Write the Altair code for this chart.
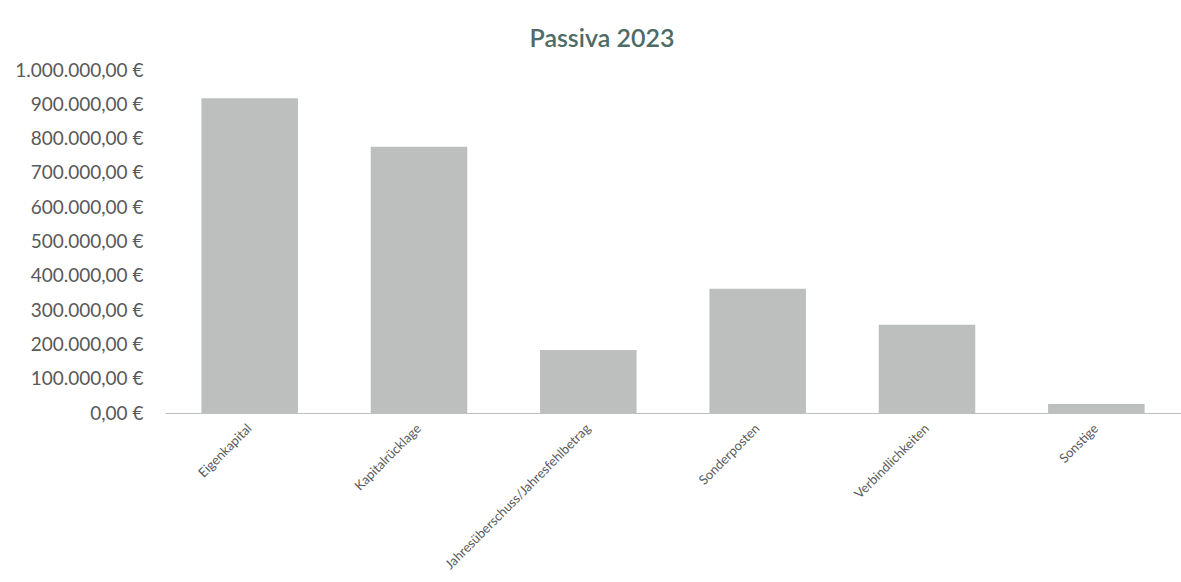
import altair as alt
import pandas as pd

categories = [
    "Eigenkapital",
    "Kapitalrücklage",
    "Jahresüberschuss/Jahresfehlbetrag",
    "Sonderposten",
    "Verbindlichkeiten",
    "Sonstige",
]
values = [918000, 776000, 184000, 362000, 257000, 26000]
y_ticks = [0, 100000, 200000, 300000, 400000, 500000, 600000, 700000, 800000, 900000, 1000000]

df = pd.DataFrame({"Kategorie": categories, "Wert": values})

label_expr = (
    "replace(replace(replace(format(datum.value, ',.2f'), regexp(',', 'g'), '#'), "
    "regexp('[.]', 'g'), ','), regexp('#', 'g'), '.') + ' €'"
)

chart = (
    alt.Chart(df)
    .mark_bar(color="#bdbfbf")
    .encode(
        x=alt.X(
            "Kategorie:N",
            sort=categories,
            scale=alt.Scale(paddingInner=0.43, paddingOuter=0.215),
            axis=alt.Axis(
                title=None,
                labelAngle=-45,
                labelAlign="right",
                labelBaseline="middle",
                labelPadding=13,
                labelLimit=0,
                ticks=False,
                domainColor="#bfbfbf",
                labelFont="Lato",
                labelFontSize=13,
                labelColor="#595959",
            ),
        ),
        y=alt.Y(
            "Wert:Q",
            scale=alt.Scale(domain=[0, 1000000], nice=False),
            axis=alt.Axis(
                title=None,
                values=y_ticks,
                labelExpr=label_expr,
                domain=False,
                ticks=False,
                grid=False,
                labelPadding=22,
                labelFont="Lato",
                labelFontSize=19,
                labelColor="#595959",
            ),
        ),
    )
    .properties(
        width=1016,
        height=343,
        autosize="none",
        background="white",
        padding={"left": 165, "top": 70, "right": 0, "bottom": 169},
        title=alt.TitleParams(
            "Passiva 2023",
            font="Lato",
            fontSize=25,
            fontWeight=600,
            color="#4d6b67",
            anchor="middle",
            frame="group",
            dx=-71,
            dy=36,
            offset=25,
            baseline="alphabetic",
        ),
    )
    .configure_view(strokeWidth=0, stroke="transparent")
)

chart.save("out.html", embed_options={"renderer": "svg", "actions": False})
